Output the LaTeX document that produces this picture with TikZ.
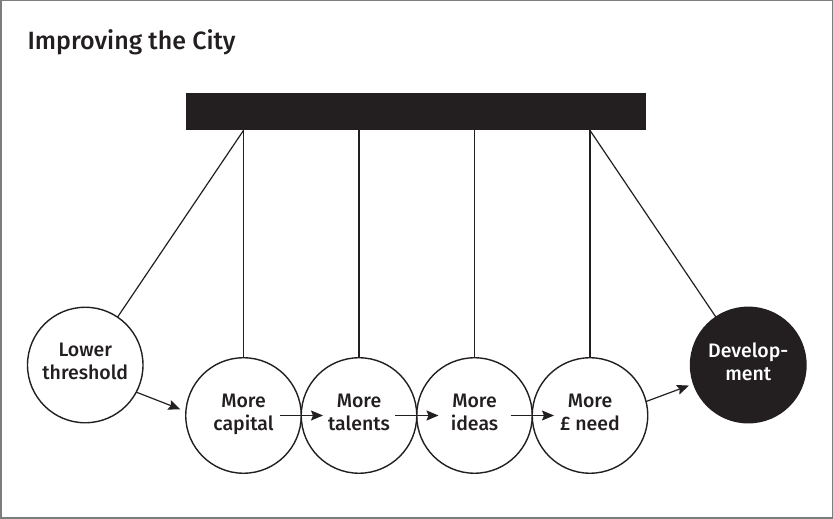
\documentclass[tikz,border=0pt]{standalone}
\usepackage{fontspec}
\setmainfont{Fira Sans Medium}
\usetikzlibrary{arrows.meta, positioning}
\definecolor{ink}{RGB}{35,31,32}
\definecolor{frame}{RGB}{125,125,125}

\begin{document}
\begin{tikzpicture}[
  x=1pt, y=1pt,
  ball/.style={circle, draw=ink, line width=1.4pt, minimum size=115.5pt,
               inner sep=0pt, outer sep=0pt, align=center, text=ink,
               font=\fontsize{19.5}{23}\selectfont,
               execute at begin node=\strut, execute at end node=\strut},
  devball/.style={ball, fill=ink, text=white},
  cord/.style={draw=ink, line width=1.2pt},
  push/.style={draw=ink, line width=1.2pt,
               -{Stealth[length=12pt, width=10pt, inset=2pt]}}
]
\useasboundingbox (0,0) rectangle (833,519);
\draw[frame, line width=1.5pt] (0.75,0.75) rectangle (832.25,518.25);

\node[anchor=base west, text=ink, font=\fontsize{25}{30}\selectfont]
  (title) at (24,469) {Improving the City};
\node[fill=ink, minimum width=460pt, minimum height=37pt, inner sep=0pt,
  anchor=north west] (bar) at (186,426) {};

% the row of hanging balls
\node[ball] (capital) at (243.5,103.5) {More\\capital};
\node[ball, right=0pt of capital] (talents) {More\\talents};
\node[ball, right=0pt of talents] (ideas) {More\\ideas};
\node[ball, right=0pt of ideas] (need) {More\\£ need};
\foreach \b in {capital,talents,ideas,need}{
  \coordinate (pivot-\b) at (\b |- bar.south);
  \draw[cord] (pivot-\b) -- (\b);
}

% the two balls swung out
\node[ball] (lower) at ([shift={(236:283)}]pivot-capital) {Lower\\threshold};
\node[devball] (dev) at ([shift={(-56:283)}]pivot-need) {Develop-\\ment};
\draw[cord] (pivot-capital) -- (lower);
\draw[cord] (pivot-need) -- (dev);

\draw[push, shorten >=6pt] (lower.-28) -- (capital.176);
\foreach \a/\b in {capital/talents, talents/ideas, ideas/need}
  \draw[push] ([xshift=36pt]\a.center) -- ([xshift=-36pt]\b.center);
\draw[push, shorten >=5pt] (need.14) -- (dev.199);
\end{tikzpicture}
\end{document}
